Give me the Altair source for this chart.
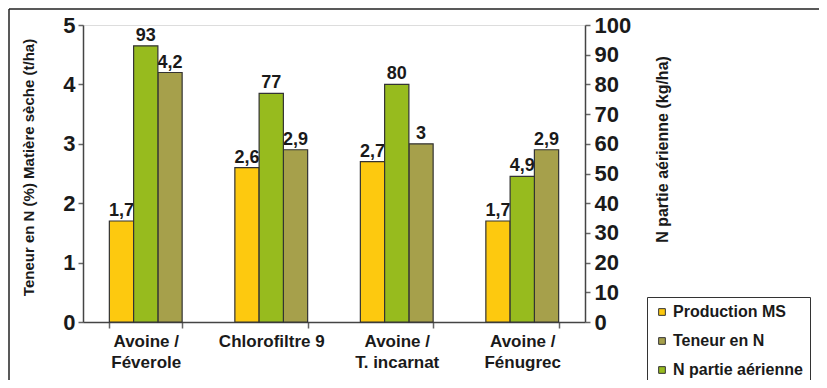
import altair as alt
import pandas as pd

categories = ["Avoine /\nFéverole", "Chlorofiltre 9", "Avoine /\nT. incarnat", "Avoine /\nFénugrec"]
production_ms = [1.7, 2.6, 2.7, 1.7]
teneur_n = [4.2, 2.9, 3.0, 2.9]
n_aerienne = [93, 77, 80, 49]
n_aerienne_labels = ["93", "77", "80", "4,9"]
series_names = ["Production MS", "Teneur en N", "N partie aérienne"]
bar_order = ["Production MS", "N partie aérienne", "Teneur en N"]
colors = ["#FDC90F", "#A6A04B", "#97BB1E"]


def fmt(v):
    return f"{v:g}".replace(".", ",")


left_rows = []
for c, p, t in zip(categories, production_ms, teneur_n):
    left_rows.append({"cat": c, "series": "Production MS", "value": p, "label": fmt(p)})
    left_rows.append({"cat": c, "series": "Teneur en N", "value": t, "label": fmt(t)})
right_rows = [
    {"cat": c, "series": "N partie aérienne", "value": v, "label": l}
    for c, v, l in zip(categories, n_aerienne, n_aerienne_labels)
]
left_df = pd.DataFrame(left_rows)
right_df = pd.DataFrame(right_rows)

FONT = "Liberation Sans"

x_enc = alt.X(
    "cat:N",
    sort=categories,
    scale=alt.Scale(paddingInner=0.42, paddingOuter=0.21),
    axis=alt.Axis(
        title=None,
        labelExpr="split(datum.label, '\\n')",
        labelAngle=0,
        tickBand="extent",
        labelFontSize=17,
        labelLineHeight=21,
        labelPadding=5,
        tickSize=6,
        labelLimit=300,
    ),
)
xoff_enc = alt.XOffset("series:N", sort=bar_order,
                       scale=alt.Scale(domain=bar_order, paddingInner=0, paddingOuter=0))
color_enc = alt.Color(
    "series:N",
    scale=alt.Scale(domain=series_names, range=colors),
    legend=alt.Legend(title=None),
)

y_left = alt.Y(
    "value:Q",
    scale=alt.Scale(domain=[0, 5]),
    axis=alt.Axis(
        values=[0, 1, 2, 3, 4, 5],
        title="Teneur en N (%) Matière sèche (t/ha)",
        titleFontSize=15,
        titleX=-55,
        titleY=142,
        titleAngle=270,
        titleAlign="center",
        titleBaseline="middle",
        labelFontSize=22,
        labelPadding=3,
        tickSize=5,
    ),
)
y_right = alt.Y(
    "value:Q",
    scale=alt.Scale(domain=[0, 100]),
    axis=alt.Axis(
        orient="right",
        values=list(range(0, 101, 10)),
        title="N partie aérienne (kg/ha)",
        titleFontSize=16,
        titleX=77,
        titleY=124,
        titleAngle=270,
        titleAlign="center",
        titleBaseline="middle",
        labelFontSize=22,
        labelPadding=4,
        tickSize=5,
    ),
)

one = pd.DataFrame({"a": [0]})
frame_top = alt.Chart(one).mark_rule(stroke="#222", strokeWidth=1.5).encode(
    x=alt.value(-74), x2=alt.value(1200), y=alt.value(-16)
)
frame_left = alt.Chart(one).mark_rule(stroke="#222", strokeWidth=1.5).encode(
    x=alt.value(-74), y=alt.value(-16), y2=alt.value(1200)
)

bars_l = alt.Chart(left_df).mark_bar(stroke="#333", strokeWidth=1.2).encode(
    x=x_enc, xOffset=xoff_enc, y=y_left, color=color_enc
)
text_l = alt.Chart(left_df).mark_text(
    baseline="bottom", dy=-1, fontSize=18, fontWeight="bold", color="#1a1a1a"
).encode(x=x_enc, xOffset=xoff_enc, y=y_left, text="label:N")

bars_r = alt.Chart(right_df).mark_bar(stroke="#333", strokeWidth=1.2).encode(
    x=x_enc, xOffset=xoff_enc, y=y_right, color=color_enc
)
text_r = alt.Chart(right_df).mark_text(
    baseline="bottom", dy=-1, fontSize=18, fontWeight="bold", color="#1a1a1a"
).encode(x=x_enc, xOffset=xoff_enc, y=y_right, text="label:N")

left = alt.layer(frame_top, frame_left, bars_l, text_l)
right = alt.layer(bars_r, text_r)

chart = (
    alt.layer(left, right)
    .resolve_scale(y="independent")
    .properties(
        width=502,
        height=297,
        padding={"left": 75, "top": 17, "right": 234, "bottom": 58},
        autosize=alt.AutoSizeParams(type="none"),
    )
    .configure_view(stroke=None)
    .configure(font=FONT)
    .configure_axis(
        labelFont=FONT,
        labelFontWeight="bold",
        labelColor="#1a1a1a",
        titleFont=FONT,
        titleFontWeight="bold",
        titleColor="#1a1a1a",
        domainColor="#444",
        domainWidth=1.5,
        tickColor="#666",
        tickWidth=1.5,
        grid=False,
    )
    .configure_legend(
        orient="none",
        legendX=564,
        legendY=272,
        labelFont=FONT,
        labelFontSize=16,
        labelFontWeight="bold",
        labelColor="#1a1a1a",
        symbolType="square",
        symbolSize=45,
        symbolStrokeColor="#333",
        symbolStrokeWidth=1,
        strokeColor="#333",
        fillColor="white",
        padding=7,
        rowPadding=13,
        labelOffset=3,
    )
)

chart.save("out.html", embed_options={"renderer": "svg", "actions": False})
